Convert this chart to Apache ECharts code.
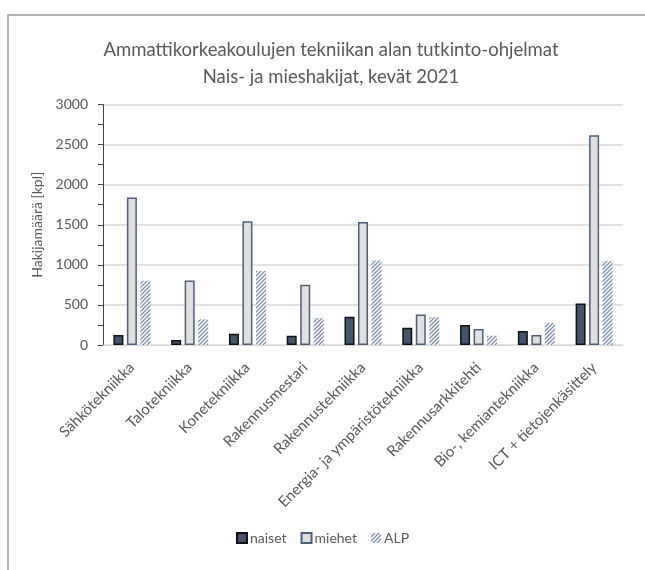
<!DOCTYPE html>
<html>
<head>
<meta charset="utf-8">
<script src="https://cdn.jsdelivr.net/npm/echarts@6/dist/echarts.min.js"></script>
<style>
  html, body { margin: 0; padding: 0; background: #fff; }
  #chart { width: 645px; height: 570px; }
</style>
</head>
<body>
<div id="chart"></div>
<script>
// Hakijat tekniikan alan AMK-tutkinto-ohjelmiin, kevät 2021
const categories = [
    "Sähkötekniikka", "Talotekniikka", "Konetekniikka", "Rakennusmestari",
    "Rakennustekniikka", "Energia- ja ympäristötekniikka", "Rakennusarkkitehti",
    "Bio-, kemiantekniikka", "ICT + tietojenkäsittely"
]
const naiset = [125, 62, 141, 116, 353, 216, 249, 174, 519]
const miehet = [1840, 806, 1545, 752, 1533, 382, 199, 125, 2617]
const alp = [802, 320, 926, 336, 1055, 345, 116, 274, 1047]

const FONT = 'Lato, sans-serif'
const TEXT = "#595959"

// diagonal hatch for ALP
function hatch() {
    const c = document.createElement("canvas")
    c.width = 4
    c.height = 4
    const ctx = c.getContext("2d")
    ctx.fillStyle = "#ffffff"
    ctx.fillRect(0, 0, 4, 4)
    ctx.strokeStyle = "#7f8fa9"
    ctx.lineWidth = 1.3
    ctx.beginPath()
    ctx.moveTo(-1, 5); ctx.lineTo(5, -1)
    ctx.moveTo(-1, 1); ctx.lineTo(1, -1)
    ctx.moveTo(3, 5); ctx.lineTo(5, 3)
    ctx.stroke()
    return { image: c, repeat: "repeat" }
}

document.addEventListener("DOMContentLoaded", () => {
    const chart = echarts.init(document.getElementById("chart"))

    const option = {
        backgroundColor: "#fff",
        textStyle: { fontFamily: FONT },
        graphic: [
            {
                type: "rect",
                shape: { x: 8, y: 15, width: 700, height: 620 },
                style: { fill: "none", stroke: "#9a9a9a", lineWidth: 1.5 },
                silent: true,
                z: -1,
            },
        ],
        title: {
            text: "Ammattikorkeakoulujen tekniikan alan tutkinto-ohjelmat\nNais- ja mieshakijat, kevät 2021",
            left: 326,
            top: 32,
            textAlign: "center",
            textStyle: {
                fontFamily: FONT,
                fontSize: 18.5,
                fontWeight: "normal",
                color: TEXT,
                lineHeight: 27,
            },
        },
        legend: {
            bottom: 20,
            left: "center",
            icon: "rect",
            itemWidth: 10,
            itemHeight: 10,
            itemGap: 14,
            textStyle: { fontFamily: FONT, fontSize: 14, color: TEXT, padding: [0, 0, 0, -2] },
            data: ["naiset", "miehet", "ALP"],
        },
        grid: {
            left: 103,
            right: 22,
            top: 104.5,
            bottom: 225,
            containLabel: false,
        },
        xAxis: {
            type: "category",
            data: categories,
            axisLine: { lineStyle: { color: "#d9d9d9", width: 1 } },
            axisTick: { show: false },
            axisLabel: {
                rotate: 45,
                interval: 0,
                margin: 20,
                fontFamily: FONT,
                fontSize: 15,
                color: TEXT,
            },
        },
        yAxis: {
            type: "value",
            min: 0,
            max: 3000,
            interval: 500,
            name: "Hakijamäärä [kpl]",
            nameLocation: "middle",
            nameGap: 57,
            nameTextStyle: { fontFamily: FONT, fontSize: 14, color: TEXT },
            axisLine: { show: true, lineStyle: { color: "#404040", width: 1 } },
            axisTick: { show: true, length: 5, lineStyle: { color: "#404040" } },
            minorTick: { show: true, splitNumber: 2, length: 5, lineStyle: { color: "#404040" } },
            axisLabel: {
                fontFamily: FONT, fontSize: 14, color: TEXT, margin: 15,
                formatter: (v) => String(v),
            },
            splitLine: { lineStyle: { color: "#d9d9d9", width: 1.5 } },
        },
        series: [
            {
                name: "naiset",
                type: "bar",
                data: naiset,
                barWidth: 10,
                barGap: "35%",
                itemStyle: { color: "#44546a", borderColor: "#111111", borderWidth: 1.5 },
            },
            {
                name: "miehet",
                type: "bar",
                data: miehet,
                barWidth: 10,
                barGap: "35%",
                itemStyle: { color: "#e0e0e0", borderColor: "#4e5f78", borderWidth: 1.5 },
            },
            {
                name: "ALP",
                type: "bar",
                data: alp,
                barWidth: 10,
                barGap: "35%",
                itemStyle: { color: hatch() },
            },
        ],
    }

    chart.setOption(option)

    window.addEventListener("resize", () => {
        chart.resize()
    })
})
</script>
</body>
</html>
